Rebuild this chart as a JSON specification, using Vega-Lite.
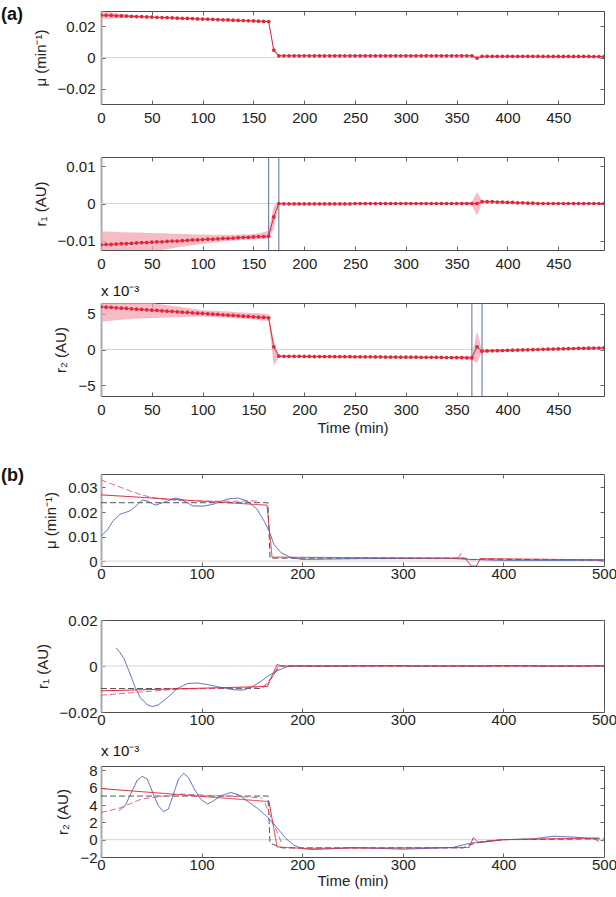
{
  "$schema": "https://vega.github.io/schema/vega-lite/v6.json",
  "background": "white",
  "padding": {"left": 0, "top": 5, "right": 0, "bottom": 0},
  "config": {
    "font": "Liberation Sans",
    "view": {"stroke": "#4d4d4d", "strokeWidth": 1},
    "axis": {"domain": false, "grid": false, "labelFont": "Liberation Sans", "labelFontSize": 15, "labelColor": "#222222", "titleFont": "Liberation Sans", "titleFontSize": 15, "titleFontWeight": "normal", "titleColor": "#222222", "tickColor": "#666666", "tickSize": -4, "tickWidth": 1, "labelFlush": false, "labelOverlap": false, "labelPadding": 10, "titlePadding": 9},
    "axisTop": {"minExtent": 0, "maxExtent": 0, "labelPadding": 0, "titlePadding": 0},
    "axisRight": {"minExtent": 0, "maxExtent": 0, "labelPadding": 0, "titlePadding": 0},
    "title": {"font": "Liberation Sans", "color": "#111111"}
  },
  "datasets": {
    "a": [
      {"t":0,"mu":0.0273,"mul":0.0248,"muh":0.0298,"r1":-0.0111,"r1l":-0.015,"r1h":-0.0075,"r2":5.97,"r2l":3.87,"r2h":7.0},
      {"t":5,"mu":0.0272,"mul":0.025,"muh":0.0294,"r1":-0.011,"r1l":-0.0148,"r1h":-0.0075,"r2":5.92,"r2l":3.95,"r2h":6.95},
      {"t":10,"mu":0.0271,"mul":0.0252,"muh":0.029,"r1":-0.011,"r1l":-0.0146,"r1h":-0.0076,"r2":5.88,"r2l":4.02,"r2h":6.9},
      {"t":15,"mu":0.0269,"mul":0.0253,"muh":0.0285,"r1":-0.0109,"r1l":-0.0144,"r1h":-0.0076,"r2":5.83,"r2l":4.09,"r2h":6.85},
      {"t":20,"mu":0.0268,"mul":0.0255,"muh":0.0281,"r1":-0.0108,"r1l":-0.0142,"r1h":-0.0077,"r2":5.78,"r2l":4.15,"r2h":6.8},
      {"t":25,"mu":0.0267,"mul":0.0256,"muh":0.0278,"r1":-0.0108,"r1l":-0.014,"r1h":-0.0077,"r2":5.74,"r2l":4.2,"r2h":6.75},
      {"t":30,"mu":0.0266,"mul":0.0257,"muh":0.0275,"r1":-0.0107,"r1l":-0.0138,"r1h":-0.0078,"r2":5.69,"r2l":4.25,"r2h":6.7},
      {"t":35,"mu":0.0264,"mul":0.0257,"muh":0.0271,"r1":-0.0106,"r1l":-0.0136,"r1h":-0.0078,"r2":5.64,"r2l":4.3,"r2h":6.65},
      {"t":40,"mu":0.0263,"mul":0.0258,"muh":0.0268,"r1":-0.0105,"r1l":-0.0134,"r1h":-0.0078,"r2":5.6,"r2l":4.34,"r2h":6.6},
      {"t":45,"mu":0.0262,"mul":0.0258,"muh":0.0266,"r1":-0.0105,"r1l":-0.0132,"r1h":-0.0079,"r2":5.55,"r2l":4.37,"r2h":6.55},
      {"t":50,"mu":0.0261,"mul":0.0258,"muh":0.0264,"r1":-0.0104,"r1l":-0.013,"r1h":-0.0079,"r2":5.5,"r2l":4.4,"r2h":6.5},
      {"t":55,"mu":0.0259,"mul":0.0256,"muh":0.0262,"r1":-0.0103,"r1l":-0.0127,"r1h":-0.008,"r2":5.46,"r2l":4.42,"r2h":6.4},
      {"t":60,"mu":0.0258,"mul":0.0255,"muh":0.0261,"r1":-0.0103,"r1l":-0.0125,"r1h":-0.008,"r2":5.41,"r2l":4.45,"r2h":6.3},
      {"t":65,"mu":0.0257,"mul":0.0254,"muh":0.026,"r1":-0.0102,"r1l":-0.0123,"r1h":-0.008,"r2":5.36,"r2l":4.47,"r2h":6.2},
      {"t":70,"mu":0.0256,"mul":0.0253,"muh":0.0259,"r1":-0.0101,"r1l":-0.012,"r1h":-0.0081,"r2":5.32,"r2l":4.5,"r2h":6.1},
      {"t":75,"mu":0.0254,"mul":0.0251,"muh":0.0257,"r1":-0.0101,"r1l":-0.0118,"r1h":-0.0081,"r2":5.27,"r2l":4.52,"r2h":6.0},
      {"t":80,"mu":0.0253,"mul":0.025,"muh":0.0256,"r1":-0.01,"r1l":-0.0116,"r1h":-0.0082,"r2":5.22,"r2l":4.55,"r2h":5.9},
      {"t":85,"mu":0.0252,"mul":0.0249,"muh":0.0255,"r1":-0.0099,"r1l":-0.0114,"r1h":-0.0082,"r2":5.18,"r2l":4.57,"r2h":5.8},
      {"t":90,"mu":0.0251,"mul":0.0248,"muh":0.0254,"r1":-0.0098,"r1l":-0.0112,"r1h":-0.0083,"r2":5.13,"r2l":4.58,"r2h":5.7},
      {"t":95,"mu":0.0249,"mul":0.0246,"muh":0.0252,"r1":-0.0098,"r1l":-0.011,"r1h":-0.0083,"r2":5.08,"r2l":4.6,"r2h":5.6},
      {"t":100,"mu":0.0248,"mul":0.0245,"muh":0.0251,"r1":-0.0097,"r1l":-0.0108,"r1h":-0.0083,"r2":5.04,"r2l":4.6,"r2h":5.5},
      {"t":105,"mu":0.0247,"mul":0.0244,"muh":0.025,"r1":-0.0096,"r1l":-0.0107,"r1h":-0.0083,"r2":4.99,"r2l":4.58,"r2h":5.46},
      {"t":110,"mu":0.0246,"mul":0.0243,"muh":0.0249,"r1":-0.0096,"r1l":-0.0105,"r1h":-0.0084,"r2":4.94,"r2l":4.55,"r2h":5.42},
      {"t":115,"mu":0.0244,"mul":0.0241,"muh":0.0247,"r1":-0.0095,"r1l":-0.0104,"r1h":-0.0084,"r2":4.9,"r2l":4.52,"r2h":5.38},
      {"t":120,"mu":0.0243,"mul":0.024,"muh":0.0246,"r1":-0.0094,"r1l":-0.0102,"r1h":-0.0084,"r2":4.85,"r2l":4.48,"r2h":5.34},
      {"t":125,"mu":0.0242,"mul":0.0239,"muh":0.0245,"r1":-0.0094,"r1l":-0.0101,"r1h":-0.0084,"r2":4.8,"r2l":4.44,"r2h":5.3},
      {"t":130,"mu":0.0241,"mul":0.0238,"muh":0.0244,"r1":-0.0093,"r1l":-0.01,"r1h":-0.0084,"r2":4.76,"r2l":4.4,"r2h":5.26},
      {"t":135,"mu":0.0239,"mul":0.0236,"muh":0.0242,"r1":-0.0092,"r1l":-0.0099,"r1h":-0.0083,"r2":4.71,"r2l":4.35,"r2h":5.22},
      {"t":140,"mu":0.0238,"mul":0.0235,"muh":0.0241,"r1":-0.0091,"r1l":-0.0098,"r1h":-0.0083,"r2":4.66,"r2l":4.3,"r2h":5.18},
      {"t":145,"mu":0.0237,"mul":0.0234,"muh":0.024,"r1":-0.0091,"r1l":-0.0097,"r1h":-0.0083,"r2":4.62,"r2l":4.25,"r2h":5.14},
      {"t":150,"mu":0.0236,"mul":0.0233,"muh":0.0239,"r1":-0.009,"r1l":-0.0096,"r1h":-0.0082,"r2":4.57,"r2l":4.2,"r2h":5.1},
      {"t":155,"mu":0.0234,"mul":0.0231,"muh":0.0237,"r1":-0.0089,"r1l":-0.0096,"r1h":-0.008,"r2":4.52,"r2l":4.1,"r2h":5.05},
      {"t":160,"mu":0.0233,"mul":0.023,"muh":0.0236,"r1":-0.0089,"r1l":-0.0095,"r1h":-0.0077,"r2":4.48,"r2l":4.05,"r2h":5.0},
      {"t":165,"mu":0.0232,"mul":0.0228,"muh":0.0236,"r1":-0.0088,"r1l":-0.0095,"r1h":-0.0073,"r2":4.43,"r2l":4.0,"r2h":4.95},
      {"t":170,"mu":0.0048,"mul":0.0035,"muh":0.0061,"r1":-0.0036,"r1l":-0.0068,"r1h":-0.0006,"r2":0.37,"r2l":-2.3,"r2h":1.2},
      {"t":175,"mu":0.0011,"mul":0.0007,"muh":0.0015,"r1":0.0,"r1l":-0.0003,"r1h":0.0003,"r2":-0.94,"r2l":-1.1,"r2h":-0.8},
      {"t":180,"mu":0.0011,"mul":0.0009,"muh":0.0013,"r1":-0.0001,"r1l":-0.0003,"r1h":0.0001,"r2":-0.95,"r2l":-1.05,"r2h":-0.85},
      {"t":185,"mu":0.0011,"mul":0.0009,"muh":0.0013,"r1":-0.0001,"r1l":-0.0003,"r1h":0.0001,"r2":-0.96,"r2l":-1.06,"r2h":-0.86},
      {"t":190,"mu":0.0011,"mul":0.0009,"muh":0.0013,"r1":-0.0001,"r1l":-0.0003,"r1h":0.0001,"r2":-0.96,"r2l":-1.06,"r2h":-0.86},
      {"t":195,"mu":0.0011,"mul":0.0009,"muh":0.0013,"r1":-0.0001,"r1l":-0.0003,"r1h":0.0001,"r2":-0.96,"r2l":-1.06,"r2h":-0.86},
      {"t":200,"mu":0.0011,"mul":0.0009,"muh":0.0013,"r1":-0.0001,"r1l":-0.0003,"r1h":0.0001,"r2":-0.97,"r2l":-1.07,"r2h":-0.87},
      {"t":205,"mu":0.0011,"mul":0.0009,"muh":0.0013,"r1":-0.0001,"r1l":-0.0003,"r1h":0.0001,"r2":-0.97,"r2l":-1.07,"r2h":-0.87},
      {"t":210,"mu":0.0011,"mul":0.0009,"muh":0.0013,"r1":-0.0001,"r1l":-0.0003,"r1h":0.0001,"r2":-0.98,"r2l":-1.08,"r2h":-0.88},
      {"t":215,"mu":0.0011,"mul":0.0009,"muh":0.0013,"r1":-0.0001,"r1l":-0.0003,"r1h":0.0001,"r2":-0.98,"r2l":-1.08,"r2h":-0.88},
      {"t":220,"mu":0.0011,"mul":0.0009,"muh":0.0013,"r1":-0.0001,"r1l":-0.0003,"r1h":0.0001,"r2":-0.99,"r2l":-1.09,"r2h":-0.89},
      {"t":225,"mu":0.0011,"mul":0.0009,"muh":0.0013,"r1":-0.0001,"r1l":-0.0003,"r1h":0.0001,"r2":-0.99,"r2l":-1.09,"r2h":-0.89},
      {"t":230,"mu":0.0011,"mul":0.0009,"muh":0.0013,"r1":-0.0001,"r1l":-0.0003,"r1h":0.0001,"r2":-1.0,"r2l":-1.1,"r2h":-0.9},
      {"t":235,"mu":0.0011,"mul":0.0009,"muh":0.0013,"r1":-0.0001,"r1l":-0.0003,"r1h":0.0001,"r2":-1.0,"r2l":-1.1,"r2h":-0.9},
      {"t":240,"mu":0.0011,"mul":0.0009,"muh":0.0013,"r1":-0.0001,"r1l":-0.0003,"r1h":0.0001,"r2":-1.01,"r2l":-1.11,"r2h":-0.91},
      {"t":245,"mu":0.0011,"mul":0.0009,"muh":0.0013,"r1":-0.0001,"r1l":-0.0003,"r1h":0.0001,"r2":-1.01,"r2l":-1.11,"r2h":-0.91},
      {"t":250,"mu":0.0011,"mul":0.0009,"muh":0.0013,"r1":0.0,"r1l":-0.0002,"r1h":0.0002,"r2":-1.02,"r2l":-1.12,"r2h":-0.92},
      {"t":255,"mu":0.0011,"mul":0.0009,"muh":0.0013,"r1":0.0,"r1l":-0.0002,"r1h":0.0002,"r2":-1.02,"r2l":-1.12,"r2h":-0.92},
      {"t":260,"mu":0.0011,"mul":0.0009,"muh":0.0013,"r1":0.0,"r1l":-0.0002,"r1h":0.0002,"r2":-1.03,"r2l":-1.13,"r2h":-0.93},
      {"t":265,"mu":0.0011,"mul":0.0009,"muh":0.0013,"r1":0.0,"r1l":-0.0002,"r1h":0.0002,"r2":-1.03,"r2l":-1.13,"r2h":-0.93},
      {"t":270,"mu":0.0011,"mul":0.0009,"muh":0.0013,"r1":0.0,"r1l":-0.0002,"r1h":0.0002,"r2":-1.04,"r2l":-1.14,"r2h":-0.94},
      {"t":275,"mu":0.0011,"mul":0.0009,"muh":0.0013,"r1":0.0,"r1l":-0.0002,"r1h":0.0002,"r2":-1.04,"r2l":-1.14,"r2h":-0.94},
      {"t":280,"mu":0.0011,"mul":0.0009,"muh":0.0013,"r1":0.0,"r1l":-0.0002,"r1h":0.0002,"r2":-1.05,"r2l":-1.15,"r2h":-0.95},
      {"t":285,"mu":0.0011,"mul":0.0009,"muh":0.0013,"r1":0.0,"r1l":-0.0002,"r1h":0.0002,"r2":-1.05,"r2l":-1.15,"r2h":-0.95},
      {"t":290,"mu":0.0011,"mul":0.0009,"muh":0.0013,"r1":0.0,"r1l":-0.0002,"r1h":0.0002,"r2":-1.06,"r2l":-1.16,"r2h":-0.96},
      {"t":295,"mu":0.0011,"mul":0.0009,"muh":0.0013,"r1":0.0,"r1l":-0.0002,"r1h":0.0002,"r2":-1.07,"r2l":-1.17,"r2h":-0.97},
      {"t":300,"mu":0.0011,"mul":0.0009,"muh":0.0013,"r1":0.0,"r1l":-0.0002,"r1h":0.0002,"r2":-1.07,"r2l":-1.17,"r2h":-0.97},
      {"t":305,"mu":0.0011,"mul":0.0009,"muh":0.0013,"r1":0.0,"r1l":-0.0002,"r1h":0.0002,"r2":-1.08,"r2l":-1.18,"r2h":-0.98},
      {"t":310,"mu":0.0011,"mul":0.0009,"muh":0.0013,"r1":0.0,"r1l":-0.0002,"r1h":0.0002,"r2":-1.08,"r2l":-1.18,"r2h":-0.98},
      {"t":315,"mu":0.0011,"mul":0.0009,"muh":0.0013,"r1":0.0,"r1l":-0.0002,"r1h":0.0002,"r2":-1.09,"r2l":-1.19,"r2h":-0.99},
      {"t":320,"mu":0.0011,"mul":0.0009,"muh":0.0013,"r1":0.0,"r1l":-0.0002,"r1h":0.0002,"r2":-1.09,"r2l":-1.19,"r2h":-0.99},
      {"t":325,"mu":0.0011,"mul":0.0009,"muh":0.0013,"r1":0.0,"r1l":-0.0002,"r1h":0.0002,"r2":-1.1,"r2l":-1.2,"r2h":-1.0},
      {"t":330,"mu":0.0011,"mul":0.0009,"muh":0.0013,"r1":0.0,"r1l":-0.0002,"r1h":0.0002,"r2":-1.1,"r2l":-1.2,"r2h":-1.0},
      {"t":335,"mu":0.0011,"mul":0.0009,"muh":0.0013,"r1":0.0,"r1l":-0.0002,"r1h":0.0002,"r2":-1.11,"r2l":-1.21,"r2h":-1.01},
      {"t":340,"mu":0.0011,"mul":0.0009,"muh":0.0013,"r1":0.0,"r1l":-0.0002,"r1h":0.0002,"r2":-1.12,"r2l":-1.24,"r2h":-1.0},
      {"t":345,"mu":0.0011,"mul":0.0009,"muh":0.0013,"r1":0.0,"r1l":-0.0002,"r1h":0.0002,"r2":-1.13,"r2l":-1.26,"r2h":-1.0},
      {"t":350,"mu":0.0011,"mul":0.0009,"muh":0.0013,"r1":0.0,"r1l":-0.0002,"r1h":0.0002,"r2":-1.14,"r2l":-1.29,"r2h":-0.99},
      {"t":355,"mu":0.0011,"mul":0.0009,"muh":0.0013,"r1":0.0,"r1l":-0.0003,"r1h":0.0003,"r2":-1.15,"r2l":-1.32,"r2h":-0.98},
      {"t":360,"mu":0.0011,"mul":0.0009,"muh":0.0013,"r1":0.0,"r1l":-0.0004,"r1h":0.0004,"r2":-1.16,"r2l":-1.36,"r2h":-0.96},
      {"t":365,"mu":0.0011,"mul":0.0008,"muh":0.0014,"r1":0.0,"r1l":-0.0005,"r1h":0.0005,"r2":-1.17,"r2l":-1.47,"r2h":-0.87},
      {"t":370,"mu":-0.0004,"mul":-0.0013,"muh":0.0005,"r1":0.0,"r1l":-0.0032,"r1h":0.003,"r2":0.37,"r2l":-1.87,"r2h":2.56},
      {"t":375,"mu":0.0008,"mul":0.0005,"muh":0.0011,"r1":0.0005,"r1l":0.0002,"r1h":0.0008,"r2":-0.24,"r2l":-0.39,"r2h":-0.09},
      {"t":380,"mu":0.0008,"mul":0.0006,"muh":0.001,"r1":0.0005,"r1l":0.0003,"r1h":0.0007,"r2":-0.2,"r2l":-0.35,"r2h":-0.05},
      {"t":385,"mu":0.0008,"mul":0.0006,"muh":0.001,"r1":0.0005,"r1l":0.0003,"r1h":0.0007,"r2":-0.18,"r2l":-0.33,"r2h":-0.03},
      {"t":390,"mu":0.0008,"mul":0.0006,"muh":0.001,"r1":0.0004,"r1l":0.0002,"r1h":0.0006,"r2":-0.16,"r2l":-0.31,"r2h":-0.01},
      {"t":395,"mu":0.0008,"mul":0.0006,"muh":0.001,"r1":0.0004,"r1l":0.0002,"r1h":0.0006,"r2":-0.14,"r2l":-0.29,"r2h":0.01},
      {"t":400,"mu":0.0008,"mul":0.0006,"muh":0.001,"r1":0.0003,"r1l":0.0001,"r1h":0.0005,"r2":-0.12,"r2l":-0.27,"r2h":0.03},
      {"t":405,"mu":0.0008,"mul":0.0006,"muh":0.001,"r1":0.0003,"r1l":0.0001,"r1h":0.0005,"r2":-0.1,"r2l":-0.25,"r2h":0.05},
      {"t":410,"mu":0.0008,"mul":0.0006,"muh":0.001,"r1":0.0002,"r1l":0.0,"r1h":0.0004,"r2":-0.08,"r2l":-0.23,"r2h":0.07},
      {"t":415,"mu":0.0008,"mul":0.0006,"muh":0.001,"r1":0.0002,"r1l":0.0,"r1h":0.0004,"r2":-0.06,"r2l":-0.21,"r2h":0.09},
      {"t":420,"mu":0.0008,"mul":0.0006,"muh":0.001,"r1":0.0001,"r1l":-0.0001,"r1h":0.0003,"r2":-0.04,"r2l":-0.19,"r2h":0.11},
      {"t":425,"mu":0.0008,"mul":0.0006,"muh":0.001,"r1":0.0001,"r1l":-0.0001,"r1h":0.0003,"r2":-0.02,"r2l":-0.17,"r2h":0.13},
      {"t":430,"mu":0.0008,"mul":0.0006,"muh":0.001,"r1":0.0,"r1l":-0.0002,"r1h":0.0002,"r2":0.0,"r2l":-0.15,"r2h":0.15},
      {"t":435,"mu":0.0007,"mul":0.0005,"muh":0.0009,"r1":0.0,"r1l":-0.0002,"r1h":0.0002,"r2":0.02,"r2l":-0.13,"r2h":0.17},
      {"t":440,"mu":0.0007,"mul":0.0005,"muh":0.0009,"r1":0.0,"r1l":-0.0002,"r1h":0.0002,"r2":0.04,"r2l":-0.11,"r2h":0.19},
      {"t":445,"mu":0.0007,"mul":0.0005,"muh":0.0009,"r1":0.0,"r1l":-0.0002,"r1h":0.0002,"r2":0.06,"r2l":-0.09,"r2h":0.21},
      {"t":450,"mu":0.0007,"mul":0.0005,"muh":0.0009,"r1":0.0,"r1l":-0.0002,"r1h":0.0002,"r2":0.08,"r2l":-0.07,"r2h":0.23},
      {"t":455,"mu":0.0007,"mul":0.0005,"muh":0.0009,"r1":0.0,"r1l":-0.0002,"r1h":0.0002,"r2":0.1,"r2l":-0.05,"r2h":0.25},
      {"t":460,"mu":0.0007,"mul":0.0005,"muh":0.0009,"r1":0.0,"r1l":-0.0002,"r1h":0.0002,"r2":0.12,"r2l":-0.03,"r2h":0.27},
      {"t":465,"mu":0.0007,"mul":0.0005,"muh":0.0009,"r1":0.0,"r1l":-0.0002,"r1h":0.0002,"r2":0.14,"r2l":-0.01,"r2h":0.29},
      {"t":470,"mu":0.0007,"mul":0.0005,"muh":0.0009,"r1":0.0,"r1l":-0.0002,"r1h":0.0002,"r2":0.16,"r2l":0.01,"r2h":0.31},
      {"t":475,"mu":0.0007,"mul":0.0005,"muh":0.0009,"r1":0.0,"r1l":-0.0002,"r1h":0.0002,"r2":0.17,"r2l":0.02,"r2h":0.32},
      {"t":480,"mu":0.0007,"mul":0.0005,"muh":0.0009,"r1":0.0,"r1l":-0.0002,"r1h":0.0002,"r2":0.18,"r2l":0.03,"r2h":0.33},
      {"t":485,"mu":0.0006,"mul":0.0004,"muh":0.0008,"r1":0.0,"r1l":-0.0002,"r1h":0.0002,"r2":0.2,"r2l":0.05,"r2h":0.35},
      {"t":490,"mu":0.0006,"mul":0.0004,"muh":0.0008,"r1":0.0,"r1l":-0.0002,"r1h":0.0002,"r2":0.21,"r2l":0.06,"r2h":0.36},
      {"t":495,"mu":0.0006,"mul":0.0004,"muh":0.0008,"r1":0.0,"r1l":-0.0002,"r1h":0.0002,"r2":0.23,"r2l":0.08,"r2h":0.38}
    ],
    "v": [
      {"p":"a2","t":165},{"p":"a2","t":175},{"p":"a3","t":365},{"p":"a3","t":375}
    ],
    "bmu": [
      {"s":"dk","g":"dk","t":0,"v":0.0238},{"s":"dk","g":"dk","t":166,"v":0.0238},{"s":"dk","g":"dk","t":168,"v":0.0012},{"s":"dk","g":"dk","t":360,"v":0.0012},{"s":"dk","g":"dk","t":366,"v":0.0006},{"s":"dk","g":"dk","t":372,"v":0.0006},{"s":"dk","g":"dk","t":376,"v":0.0008},{"s":"dk","g":"dk","t":500,"v":0.0004},
      {"s":"pk","g":"pk1","t":0,"v":0.0331},{"s":"pk","g":"pk1","t":10,"v":0.0315},{"s":"pk","g":"pk1","t":20,"v":0.03},{"s":"pk","g":"pk1","t":30,"v":0.0284},{"s":"pk","g":"pk1","t":40,"v":0.027},{"s":"pk","g":"pk1","t":50,"v":0.026},{"s":"pk","g":"pk1","t":60,"v":0.0253},{"s":"pk","g":"pk1","t":80,"v":0.0247},{"s":"pk","g":"pk1","t":100,"v":0.0245},{"s":"pk","g":"pk1","t":130,"v":0.0244},{"s":"pk","g":"pk1","t":155,"v":0.0245},
      {"s":"pk","g":"pk2","t":355,"v":0.0012},{"s":"pk","g":"pk2","t":360,"v":0.0045},
      {"s":"bl","g":"bl","t":0,"v":0.0102},{"s":"bl","g":"bl","t":6,"v":0.0125},{"s":"bl","g":"bl","t":12,"v":0.0164},{"s":"bl","g":"bl","t":19,"v":0.0191},{"s":"bl","g":"bl","t":29,"v":0.0205},{"s":"bl","g":"bl","t":35,"v":0.0225},{"s":"bl","g":"bl","t":41,"v":0.0249},{"s":"bl","g":"bl","t":46,"v":0.0245},{"s":"bl","g":"bl","t":54,"v":0.0228},{"s":"bl","g":"bl","t":62,"v":0.0239},{"s":"bl","g":"bl","t":74,"v":0.0257},{"s":"bl","g":"bl","t":81,"v":0.025},{"s":"bl","g":"bl","t":91,"v":0.0225},{"s":"bl","g":"bl","t":102,"v":0.0224},{"s":"bl","g":"bl","t":112,"v":0.0232},{"s":"bl","g":"bl","t":126,"v":0.0253},{"s":"bl","g":"bl","t":136,"v":0.0257},{"s":"bl","g":"bl","t":145,"v":0.0246},{"s":"bl","g":"bl","t":155,"v":0.0212},{"s":"bl","g":"bl","t":162,"v":0.0164},{"s":"bl","g":"bl","t":167,"v":0.0123},{"s":"bl","g":"bl","t":172,"v":0.0068},{"s":"bl","g":"bl","t":179,"v":0.0034},{"s":"bl","g":"bl","t":189,"v":0.0014},{"s":"bl","g":"bl","t":200,"v":0.0007},{"s":"bl","g":"bl","t":220,"v":0.0008},{"s":"bl","g":"bl","t":260,"v":0.001},{"s":"bl","g":"bl","t":300,"v":0.001},{"s":"bl","g":"bl","t":350,"v":0.001},{"s":"bl","g":"bl","t":380,"v":0.0005},{"s":"bl","g":"bl","t":400,"v":0.0003},{"s":"bl","g":"bl","t":450,"v":0.0003},{"s":"bl","g":"bl","t":500,"v":0.0004},
      {"s":"rd","g":"rd","t":0,"v":0.027},{"s":"rd","g":"rd","t":165,"v":0.0228},{"s":"rd","g":"rd","t":170,"v":0.0016},{"s":"rd","g":"rd","t":362,"v":0.0012},{"s":"rd","g":"rd","t":368,"v":-0.002},{"s":"rd","g":"rd","t":373,"v":-0.002},{"s":"rd","g":"rd","t":377,"v":0.001},{"s":"rd","g":"rd","t":500,"v":0.0005}
    ],
    "br1": [
      {"s":"dk","g":"dk","t":0,"v":-0.0098},{"s":"dk","g":"dk","t":160,"v":-0.0098},{"s":"dk","g":"dk","t":168,"v":-0.006},{"s":"dk","g":"dk","t":178,"v":0.0},{"s":"dk","g":"dk","t":500,"v":0.0},
      {"s":"pk","g":"pk1","t":0,"v":-0.0127},{"s":"pk","g":"pk1","t":20,"v":-0.012},{"s":"pk","g":"pk1","t":40,"v":-0.0113},{"s":"pk","g":"pk1","t":60,"v":-0.0106},{"s":"pk","g":"pk1","t":80,"v":-0.01},{"s":"pk","g":"pk1","t":120,"v":-0.0096},{"s":"pk","g":"pk1","t":155,"v":-0.0095},
      {"s":"pk","g":"pk2","t":165,"v":-0.0092},{"s":"pk","g":"pk2","t":177,"v":0.0008},
      {"s":"bl","g":"bl","t":15,"v":0.0079},{"s":"bl","g":"bl","t":19,"v":0.0058},{"s":"bl","g":"bl","t":23,"v":0.0031},{"s":"bl","g":"bl","t":29,"v":-0.0035},{"s":"bl","g":"bl","t":34,"v":-0.0093},{"s":"bl","g":"bl","t":39,"v":-0.0137},{"s":"bl","g":"bl","t":46,"v":-0.0169},{"s":"bl","g":"bl","t":51,"v":-0.0176},{"s":"bl","g":"bl","t":57,"v":-0.0169},{"s":"bl","g":"bl","t":66,"v":-0.0137},{"s":"bl","g":"bl","t":76,"v":-0.0098},{"s":"bl","g":"bl","t":86,"v":-0.0076},{"s":"bl","g":"bl","t":96,"v":-0.0074},{"s":"bl","g":"bl","t":106,"v":-0.0081},{"s":"bl","g":"bl","t":119,"v":-0.0093},{"s":"bl","g":"bl","t":132,"v":-0.0103},{"s":"bl","g":"bl","t":141,"v":-0.0105},{"s":"bl","g":"bl","t":149,"v":-0.0093},{"s":"bl","g":"bl","t":159,"v":-0.0067},{"s":"bl","g":"bl","t":165,"v":-0.0047},{"s":"bl","g":"bl","t":175,"v":-0.002},{"s":"bl","g":"bl","t":185,"v":-0.0003},{"s":"bl","g":"bl","t":192,"v":0.0},{"s":"bl","g":"bl","t":220,"v":0.0},{"s":"bl","g":"bl","t":260,"v":0.0001},{"s":"bl","g":"bl","t":290,"v":0.0002},{"s":"bl","g":"bl","t":320,"v":-0.0001},{"s":"bl","g":"bl","t":350,"v":0.0001},{"s":"bl","g":"bl","t":370,"v":0.0},{"s":"bl","g":"bl","t":400,"v":0.0002},{"s":"bl","g":"bl","t":430,"v":0.0001},{"s":"bl","g":"bl","t":450,"v":-0.0001},{"s":"bl","g":"bl","t":480,"v":0.0001},{"s":"bl","g":"bl","t":500,"v":0.0001},
      {"s":"rd","g":"rd","t":0,"v":-0.0108},{"s":"rd","g":"rd","t":165,"v":-0.0089},{"s":"rd","g":"rd","t":175,"v":0.0006},{"s":"rd","g":"rd","t":180,"v":0.0},{"s":"rd","g":"rd","t":500,"v":0.0}
    ],
    "br2": [
      {"s":"dk","g":"dk","t":0,"v":5.03},{"s":"dk","g":"dk","t":166,"v":5.03},{"s":"dk","g":"dk","t":168,"v":-0.4},{"s":"dk","g":"dk","t":180,"v":-0.95},{"s":"dk","g":"dk","t":360,"v":-0.95},{"s":"dk","g":"dk","t":366,"v":-0.6},{"s":"dk","g":"dk","t":380,"v":-0.2},{"s":"dk","g":"dk","t":400,"v":0.0},{"s":"dk","g":"dk","t":500,"v":0.1},
      {"s":"pk","g":"pk1","t":0,"v":3.15},{"s":"pk","g":"pk1","t":10,"v":3.4},{"s":"pk","g":"pk1","t":20,"v":3.7},{"s":"pk","g":"pk1","t":30,"v":4.2},{"s":"pk","g":"pk1","t":40,"v":4.68},{"s":"pk","g":"pk1","t":60,"v":5.0},{"s":"pk","g":"pk1","t":80,"v":5.26},{"s":"pk","g":"pk1","t":110,"v":5.1},{"s":"pk","g":"pk1","t":150,"v":4.9},{"s":"pk","g":"pk1","t":160,"v":4.8},
      {"s":"pk","g":"pk2","t":163,"v":4.2},{"s":"pk","g":"pk2","t":180,"v":-0.5},
      {"s":"bl","g":"bl","t":18,"v":3.35},{"s":"bl","g":"bl","t":24,"v":3.92},{"s":"bl","g":"bl","t":31,"v":5.63},{"s":"bl","g":"bl","t":36,"v":6.86},{"s":"bl","g":"bl","t":41,"v":7.31},{"s":"bl","g":"bl","t":46,"v":6.98},{"s":"bl","g":"bl","t":52,"v":5.26},{"s":"bl","g":"bl","t":57,"v":3.92},{"s":"bl","g":"bl","t":62,"v":3.23},{"s":"bl","g":"bl","t":67,"v":3.54},{"s":"bl","g":"bl","t":72,"v":5.26},{"s":"bl","g":"bl","t":77,"v":6.97},{"s":"bl","g":"bl","t":82,"v":7.66},{"s":"bl","g":"bl","t":87,"v":7.16},{"s":"bl","g":"bl","t":92,"v":6.0},{"s":"bl","g":"bl","t":99,"v":4.68},{"s":"bl","g":"bl","t":106,"v":4.11},{"s":"bl","g":"bl","t":112,"v":4.49},{"s":"bl","g":"bl","t":119,"v":5.06},{"s":"bl","g":"bl","t":129,"v":5.44},{"s":"bl","g":"bl","t":137,"v":5.17},{"s":"bl","g":"bl","t":145,"v":4.49},{"s":"bl","g":"bl","t":155,"v":3.66},{"s":"bl","g":"bl","t":165,"v":2.66},{"s":"bl","g":"bl","t":175,"v":1.37},{"s":"bl","g":"bl","t":184,"v":0.11},{"s":"bl","g":"bl","t":192,"v":-0.65},{"s":"bl","g":"bl","t":200,"v":-1.03},{"s":"bl","g":"bl","t":210,"v":-1.14},{"s":"bl","g":"bl","t":230,"v":-1.05},{"s":"bl","g":"bl","t":250,"v":-0.9},{"s":"bl","g":"bl","t":275,"v":-1.0},{"s":"bl","g":"bl","t":300,"v":-1.1},{"s":"bl","g":"bl","t":325,"v":-1.0},{"s":"bl","g":"bl","t":350,"v":-0.9},{"s":"bl","g":"bl","t":360,"v":-0.6},{"s":"bl","g":"bl","t":370,"v":-0.35},{"s":"bl","g":"bl","t":380,"v":-0.3},{"s":"bl","g":"bl","t":400,"v":0.0},{"s":"bl","g":"bl","t":430,"v":0.1},{"s":"bl","g":"bl","t":450,"v":0.4},{"s":"bl","g":"bl","t":470,"v":0.3},{"s":"bl","g":"bl","t":490,"v":0.1},{"s":"bl","g":"bl","t":495,"v":-0.2},
      {"s":"rd","g":"rd","t":0,"v":5.9},{"s":"rd","g":"rd","t":165,"v":4.41},{"s":"rd","g":"rd","t":167,"v":4.4},{"s":"rd","g":"rd","t":175,"v":-0.84},{"s":"rd","g":"rd","t":200,"v":-1.0},{"s":"rd","g":"rd","t":363,"v":-0.91},{"s":"rd","g":"rd","t":366,"v":-0.91},{"s":"rd","g":"rd","t":370,"v":0.23},{"s":"rd","g":"rd","t":375,"v":-0.3},{"s":"rd","g":"rd","t":400,"v":0.0},{"s":"rd","g":"rd","t":495,"v":0.2}
    ]
  },
  "spacing": 0,
  "bounds": "flush",
  "vconcat": [
    {
      "width": 503, "height": 93,
      "title": {"text": "(a)", "anchor": "start", "frame": "group", "dx": -100, "dy": 9, "offset": -18, "baseline": "alphabetic", "fontSize": 18, "fontWeight": "bold"},
      "data": {"name": "a"},
      "layer": [
        {"data": {"values": [{}]}, "mark": {"type": "rule", "color": "#d4d4d4", "strokeWidth": 1}, "encoding": {"y": {"datum": 0, "type": "quantitative", "axis": null}}},
        {"mark": {"type": "area", "color": "#f2a0ae", "opacity": 0.7, "clip": true},
         "encoding": {
           "x": {"field": "t", "type": "quantitative", "scale": {"domain": [0, 495], "nice": false, "zero": false}, "axis": {"orient": "bottom", "values": [0,50,100,150,200,250,300,350,400,450], "title": null}},
           "y": {"field": "mul", "type": "quantitative", "scale": {"domain": [-0.03, 0.03], "nice": false, "zero": false}, "axis": {"orient": "left", "values": [-0.02, 0, 0.02], "format": ".2~f", "title": "μ (min⁻¹)", "domain": true, "domainColor": "#aaaaaa", "domainWidth": 2}},
           "y2": {"field": "muh"}}},
        {"mark": {"type": "line", "color": "#e3263a", "strokeWidth": 1, "clip": true}, "encoding": {"x": {"field": "t", "type": "quantitative", "axis": null}, "y": {"field": "mu", "type": "quantitative", "axis": null}}},
        {"mark": {"type": "circle", "color": "#e3263a", "size": 14, "opacity": 1, "clip": true}, "encoding": {"x": {"field": "t", "type": "quantitative", "axis": null}, "y": {"field": "mu", "type": "quantitative", "axis": null}}},
        {"mark": {"type": "point", "opacity": 0}, "encoding": {"x": {"field": "t", "type": "quantitative", "axis": {"orient": "top", "values": [0,50,100,150,200,250,300,350,400,450], "labels": false, "title": null}}, "y": {"field": "mu", "type": "quantitative", "axis": {"orient": "right", "values": [-0.02, 0, 0.02], "labels": false, "title": null}}}}
      ],
      "resolve": {"axis": {"x": "independent", "y": "independent"}}
    },
    {"width": 503, "height": 53, "data": {"values": [{}]}, "mark": {"type": "point", "opacity": 0}, "encoding": {}, "view": {"stroke": null}},
    {
      "width": 503, "height": 93,
      "data": {"name": "a"},
      "layer": [
        {"data": {"values": [{}]}, "mark": {"type": "rule", "color": "#d4d4d4", "strokeWidth": 1}, "encoding": {"y": {"datum": 0, "type": "quantitative", "axis": null}}},
        {"mark": {"type": "area", "color": "#f2a0ae", "opacity": 0.7, "clip": true},
         "encoding": {
           "x": {"field": "t", "type": "quantitative", "scale": {"domain": [0, 495], "nice": false, "zero": false}, "axis": {"orient": "bottom", "values": [0,50,100,150,200,250,300,350,400,450], "title": null}},
           "y": {"field": "r1l", "type": "quantitative", "scale": {"domain": [-0.0125, 0.0125], "nice": false, "zero": false}, "axis": {"orient": "left", "values": [-0.01, 0, 0.01], "format": ".2~f", "title": "r₁ (AU)", "domain": true, "domainColor": "#aaaaaa", "domainWidth": 2}},
           "y2": {"field": "r1h"}}},
        {"data": {"name": "v"}, "transform": [{"filter": "datum.p == 'a2'"}], "mark": {"type": "rule", "color": "#5a6fa0", "strokeWidth": 1}, "encoding": {"x": {"field": "t", "type": "quantitative", "axis": null}}},
        {"mark": {"type": "line", "color": "#e3263a", "strokeWidth": 1, "clip": true}, "encoding": {"x": {"field": "t", "type": "quantitative", "axis": null}, "y": {"field": "r1", "type": "quantitative", "axis": null}}},
        {"mark": {"type": "circle", "color": "#e3263a", "size": 14, "opacity": 1, "clip": true}, "encoding": {"x": {"field": "t", "type": "quantitative", "axis": null}, "y": {"field": "r1", "type": "quantitative", "axis": null}}},
        {"mark": {"type": "point", "opacity": 0}, "encoding": {"x": {"field": "t", "type": "quantitative", "axis": {"orient": "top", "values": [0,50,100,150,200,250,300,350,400,450], "labels": false, "title": null}}, "y": {"field": "r1", "type": "quantitative", "axis": {"orient": "right", "values": [-0.01, 0, 0.01], "labels": false, "title": null}}}}
      ],
      "resolve": {"axis": {"x": "independent", "y": "independent"}}
    },
    {"width": 503, "height": 53, "data": {"values": [{}]}, "mark": {"type": "point", "opacity": 0}, "encoding": {}, "view": {"stroke": null}},
    {
      "width": 503, "height": 93,
      "title": {"text": "x 10⁻³", "anchor": "start", "frame": "group", "offset": 4, "fontSize": 15, "fontWeight": "normal"},
      "data": {"name": "a"},
      "layer": [
        {"data": {"values": [{}]}, "mark": {"type": "rule", "color": "#d4d4d4", "strokeWidth": 1}, "encoding": {"y": {"datum": 0, "type": "quantitative", "axis": null}}},
        {"mark": {"type": "area", "color": "#f2a0ae", "opacity": 0.7, "clip": true},
         "encoding": {
           "x": {"field": "t", "type": "quantitative", "scale": {"domain": [0, 495], "nice": false, "zero": false}, "axis": {"orient": "bottom", "values": [0,50,100,150,200,250,300,350,400,450], "title": "Time (min)", "titlePadding": 3}},
           "y": {"field": "r2l", "type": "quantitative", "scale": {"domain": [-6.5, 6.5], "nice": false, "zero": false}, "axis": {"orient": "left", "values": [-5, 0, 5], "title": "r₂ (AU)", "domain": true, "domainColor": "#aaaaaa", "domainWidth": 2}},
           "y2": {"field": "r2h"}}},
        {"data": {"name": "v"}, "transform": [{"filter": "datum.p == 'a3'"}], "mark": {"type": "rule", "color": "#5a6fa0", "strokeWidth": 1}, "encoding": {"x": {"field": "t", "type": "quantitative", "axis": null}}},
        {"mark": {"type": "line", "color": "#e3263a", "strokeWidth": 1, "clip": true}, "encoding": {"x": {"field": "t", "type": "quantitative", "axis": null}, "y": {"field": "r2", "type": "quantitative", "axis": null}}},
        {"mark": {"type": "circle", "color": "#e3263a", "size": 14, "opacity": 1, "clip": true}, "encoding": {"x": {"field": "t", "type": "quantitative", "axis": null}, "y": {"field": "r2", "type": "quantitative", "axis": null}}},
        {"mark": {"type": "point", "opacity": 0}, "encoding": {"x": {"field": "t", "type": "quantitative", "axis": {"orient": "top", "values": [0,50,100,150,200,250,300,350,400,450], "labels": false, "title": null}}, "y": {"field": "r2", "type": "quantitative", "axis": {"orient": "right", "values": [-5, 0, 5], "labels": false, "title": null}}}}
      ],
      "resolve": {"axis": {"x": "independent", "y": "independent"}}
    },
    {"width": 503, "height": 78, "data": {"values": [{}]}, "mark": {"type": "point", "opacity": 0}, "encoding": {}, "view": {"stroke": null}},
    {
      "width": 503, "height": 92,
      "title": {"text": "(b)", "anchor": "start", "frame": "group", "dx": -100, "dy": 6, "offset": -19, "baseline": "alphabetic", "fontSize": 18, "fontWeight": "bold"},
      "data": {"name": "bmu"},
      "layer": [
        {"data": {"values": [{}]}, "mark": {"type": "rule", "color": "#d4d4d4", "strokeWidth": 1}, "encoding": {"y": {"datum": 0, "type": "quantitative", "axis": null}}},
        {"mark": {"type": "line", "strokeWidth": 1, "clip": true},
         "encoding": {
           "x": {"field": "t", "type": "quantitative", "scale": {"domain": [0, 500], "nice": false, "zero": false}, "axis": {"orient": "bottom", "values": [0,100,200,300,400,500], "title": null, "labelPadding": 4}},
           "y": {"field": "v", "type": "quantitative", "scale": {"domain": [-0.002, 0.0355], "nice": false, "zero": false}, "axis": {"orient": "left", "values": [0, 0.01, 0.02, 0.03], "format": ".2~f", "title": "μ (min⁻¹)", "labelPadding": 8, "domain": true, "domainColor": "#aaaaaa", "domainWidth": 2}},
           "color": {"field": "s", "type": "nominal", "scale": {"domain": ["dk","pk","bl","rd"], "range": ["#555555","#d9679c","#4a64b4","#e3263a"]}, "legend": null},
           "strokeDash": {"field": "s", "type": "nominal", "scale": {"domain": ["dk","pk","bl","rd"], "range": [[6,3],[6,3],[1,0],[1,0]]}, "legend": null},
           "detail": {"field": "g"}}},
        {"mark": {"type": "point", "opacity": 0}, "encoding": {"x": {"field": "t", "type": "quantitative", "axis": {"orient": "top", "values": [0,100,200,300,400,500], "labels": false, "title": null}}, "y": {"field": "v", "type": "quantitative", "axis": {"orient": "right", "values": [0, 0.01, 0.02, 0.03], "labels": false, "title": null}}}}
      ],
      "resolve": {"axis": {"x": "independent", "y": "independent"}}
    },
    {"width": 503, "height": 54, "data": {"values": [{}]}, "mark": {"type": "point", "opacity": 0}, "encoding": {}, "view": {"stroke": null}},
    {
      "width": 503, "height": 92,
      "data": {"name": "br1"},
      "layer": [
        {"data": {"values": [{}]}, "mark": {"type": "rule", "color": "#d4d4d4", "strokeWidth": 1}, "encoding": {"y": {"datum": 0, "type": "quantitative", "axis": null}}},
        {"mark": {"type": "line", "strokeWidth": 1, "clip": true},
         "encoding": {
           "x": {"field": "t", "type": "quantitative", "scale": {"domain": [0, 500], "nice": false, "zero": false}, "axis": {"orient": "bottom", "values": [0,100,200,300,400,500], "title": null, "labelPadding": 4}},
           "y": {"field": "v", "type": "quantitative", "scale": {"domain": [-0.02, 0.02], "nice": false, "zero": false}, "axis": {"orient": "left", "values": [-0.02, 0, 0.02], "format": ".2~f", "title": "r₁ (AU)", "labelPadding": 8, "domain": true, "domainColor": "#aaaaaa", "domainWidth": 2}},
           "color": {"field": "s", "type": "nominal", "scale": {"domain": ["dk","pk","bl","rd"], "range": ["#555555","#d9679c","#4a64b4","#e3263a"]}, "legend": null},
           "strokeDash": {"field": "s", "type": "nominal", "scale": {"domain": ["dk","pk","bl","rd"], "range": [[6,3],[6,3],[1,0],[1,0]]}, "legend": null},
           "detail": {"field": "g"}}},
        {"mark": {"type": "point", "opacity": 0}, "encoding": {"x": {"field": "t", "type": "quantitative", "axis": {"orient": "top", "values": [0,100,200,300,400,500], "labels": false, "title": null}}, "y": {"field": "v", "type": "quantitative", "axis": {"orient": "right", "values": [-0.02, 0, 0.02], "labels": false, "title": null}}}}
      ],
      "resolve": {"axis": {"x": "independent", "y": "independent"}}
    },
    {"width": 503, "height": 54, "data": {"values": [{}]}, "mark": {"type": "point", "opacity": 0}, "encoding": {}, "view": {"stroke": null}},
    {
      "width": 503, "height": 91,
      "title": {"text": "x 10⁻³", "anchor": "start", "frame": "group", "offset": 4, "fontSize": 15, "fontWeight": "normal"},
      "data": {"name": "br2"},
      "layer": [
        {"data": {"values": [{}]}, "mark": {"type": "rule", "color": "#d4d4d4", "strokeWidth": 1}, "encoding": {"y": {"datum": 0, "type": "quantitative", "axis": null}}},
        {"mark": {"type": "line", "strokeWidth": 1, "clip": true},
         "encoding": {
           "x": {"field": "t", "type": "quantitative", "scale": {"domain": [0, 500], "nice": false, "zero": false}, "axis": {"orient": "bottom", "values": [0,100,200,300,400,500], "title": "Time (min)", "titlePadding": 1, "labelPadding": 4}},
           "y": {"field": "v", "type": "quantitative", "scale": {"domain": [-2, 8.5], "nice": false, "zero": false}, "axis": {"orient": "left", "values": [-2, 0, 2, 4, 6, 8], "title": "r₂ (AU)", "labelPadding": 8, "domain": true, "domainColor": "#aaaaaa", "domainWidth": 2}},
           "color": {"field": "s", "type": "nominal", "scale": {"domain": ["dk","pk","bl","rd"], "range": ["#555555","#d9679c","#4a64b4","#e3263a"]}, "legend": null},
           "strokeDash": {"field": "s", "type": "nominal", "scale": {"domain": ["dk","pk","bl","rd"], "range": [[6,3],[6,3],[1,0],[1,0]]}, "legend": null},
           "detail": {"field": "g"}}},
        {"mark": {"type": "point", "opacity": 0}, "encoding": {"x": {"field": "t", "type": "quantitative", "axis": {"orient": "top", "values": [0,100,200,300,400,500], "labels": false, "title": null}}, "y": {"field": "v", "type": "quantitative", "axis": {"orient": "right", "values": [-2, 0, 2, 4, 6, 8], "labels": false, "title": null}}}}
      ],
      "resolve": {"axis": {"x": "independent", "y": "independent"}}
    }
  ]
}
